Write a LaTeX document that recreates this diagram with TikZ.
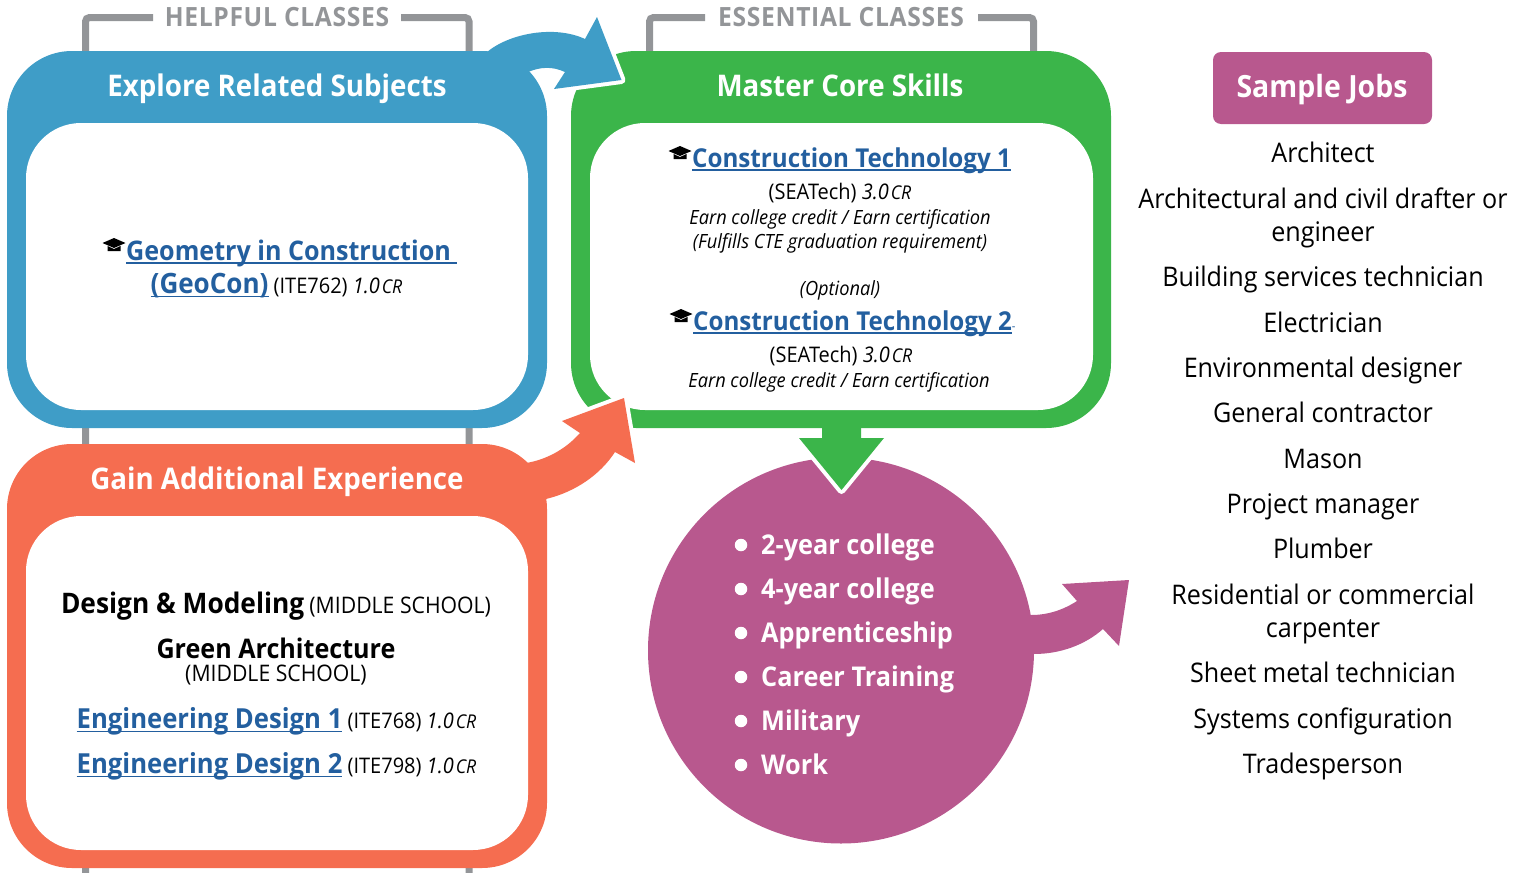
\documentclass[tikz,border=0pt]{standalone}
\usepackage{fontspec}
\setmainfont{Open Sans}[FakeStretch=0.93]
\definecolor{cblue}{HTML}{3F9DC7}
\definecolor{cgreen}{HTML}{3BB54A}
\definecolor{corange}{HTML}{F56D50}
\definecolor{cpurple}{HTML}{B8588E}
\definecolor{cgrey}{HTML}{939598}
\definecolor{clink}{HTML}{235F9F}
\newcommand{\fs}[1]{\fontsize{#1}{#1}\selectfont}
\newcommand{\lnk}[2][27]{{\color{clink}\bfseries\fs{#1}\setbox0\hbox{#2}\rlap{\rule[-3.5pt]{\wd0}{1.3pt}}\box0}}
\newcommand{\cred}[1]{{\itshape #1\kern2pt{\fs{19}CR}}}
\newcommand{\hatic}[2]{%
 \fill[black] (#1-11.5,#2-1) -- (#1,#2-6) -- (#1+11.5,#2-1) -- (#1,#2+4) -- cycle;
 \fill[black] (#1-6.5,#2+2) -- (#1,#2+5) -- (#1+6.5,#2+2) -- (#1+6.5,#2+7) -- (#1-6.5,#2+7) -- cycle;}
\tikzset{
  x=1pt,y=-1pt,
  outl/.style={preaction={draw=white,line width=8pt,line join=round}},
  brk/.style={draw=cgrey,line width=7pt,rounded corners=4pt},
  band/.style={rounded corners=65pt},
  hole/.style={fill=white,rounded corners=55pt},
  capt/.style={anchor=base,text=cgrey,font=\bfseries\fs{26.5}\addfontfeature{LetterSpace=2.5}},
  head/.style={anchor=base,text=white,yshift=-0.7pt,font=\bfseries\fs{29.8}},
  reg/.style={anchor=base,inner sep=0pt,yshift=-0.8pt,font=\fs{21.5}},
  ital/.style={anchor=base,inner sep=0pt,yshift=-0.5pt,font=\itshape\fs{19.6}},
  job/.style={anchor=base,inner sep=0pt,yshift=-1.3pt,font=\fs{27}},
  opt/.style={anchor=base,inner sep=0pt,yshift=-1pt,font=\fs{27}},
  lst/.style={anchor=base west,inner sep=0pt,yshift=-1.3pt,text=white,font=\bfseries\fs{27.2}},
  dot/.style={circle,fill=white,inner sep=0pt,minimum size=12.5pt},
}
\begin{document}
\begin{tikzpicture}
\useasboundingbox (0,0) rectangle (1527,873);
% grey brackets
\draw[brk] (153,17.5) -- (85.5,17.5) -- (85.5,873);
\draw[brk] (401,17.5) -- (469,17.5) -- (469,873);
\draw[brk] (705,17.5) -- (649.5,17.5) -- (649.5,60);
\draw[brk] (978,17.5) -- (1033.5,17.5) -- (1033.5,60);
% purple circle, its arrow, down arrow
\fill[cpurple] (841,650.5) circle (193);
\fill[cpurple] (1031,615) .. controls (1048,615) and (1063,610) .. (1077,601) -- (1062,584) -- (1129,580) -- (1119,646) -- (1103,629) .. controls (1085,645) and (1060,654) .. (1034,654) -- (1000,650) -- (1000,615) -- cycle;
\path[fill=cgreen,outl] (822,420) -- (861,420) -- (861,438) -- (884,438) -- (841.5,490) -- (799,438) -- (822,438) -- cycle;
% green box
\fill[cgreen,band] (571,51) rectangle (1111,428);
\path[hole] (590,123) rectangle (1093,410);
% blue arrow and box
\path[fill=cblue,outl] (487,52) .. controls (510,33) and (555,25) .. (585,39) -- (597,17) -- (621.5,80) -- (554,89) -- (565,72) .. controls (552,66) and (540,67) .. (528,72) -- (520,100) -- (490,80) -- cycle;
\fill[cblue,band] (7,51) rectangle (547,428);
\path[hole] (26,123) rectangle (528,410);
% orange arrow and box
\path[fill=corange,outl] (526,463) .. controls (545,460) and (565,450) .. (580,433) -- (562,421) -- (624,398) -- (635,463) -- (615,452) .. controls (600,475) and (575,492) .. (546,499) -- (500,510) -- cycle;
\fill[corange,band] (7,444) rectangle (547,868);
\path[hole] (26,516) rectangle (528,850);
% sample jobs box
\fill[cpurple,rounded corners=8pt] (1213,52) rectangle (1432,124);
% captions
\node[capt] (helpful) at (277,26) {HELPFUL CLASSES};
\node[capt] (essential) at (841,26) {ESSENTIAL CLASSES};
\node[head] (explore) at (277,96) {Explore Related Subjects};
\node[head] (master) at (840,96) {Master Core Skills};
\node[head] (gain) at (277,489) {Gain Additional Experience};
\node[head,font=\bfseries\fs{30.6}] (sample) at (1322,97) {Sample Jobs};
% blue text
\hatic{114}{244}
\node[opt,anchor=base west] (geo1) at (126,259) {\lnk{Geometry in Construction\ }};
\node[reg] (geo2) at (276.5,293) {\lnk[28]{(GeoCon)} (ITE762) \cred{1.0}};
% green text
\hatic{680}{152}
\node[opt,anchor=base west] (ct1) at (692,166) {\lnk[26]{Construction Technology 1}};
\node[reg] (ct1a) at (840,199) {(SEATech) \cred{3.0}};
\node[ital] (ct1b) at (840,224) {Earn college credit / Earn certification};
\node[ital] (ct1c) at (840,248) {(Fulfills CTE graduation requirement)};
\node[ital] (opt) at (840,295) {(Optional)};
\hatic{681}{315}
\node[opt,anchor=base west] (ct2) at (693,329) {\lnk[26]{Construction Technology 2}{\color{clink}\fs{12}-}};
\node[reg] (ct2a) at (841,362) {(SEATech) \cred{3.0}};
\node[ital] (ct2b) at (839,387) {Earn college credit / Earn certification};
% orange text
\node[reg] (dm) at (276,613) {{\bfseries\fs{28.3}Design \& Modeling} {\fs{22.8}(MIDDLE SCHOOL)}};
\node[reg] (ga) at (276,658) {{\bfseries\fs{27}Green Architecture}};
\node[reg,font=\fs{22.8}] (ms) at (276,681) {(MIDDLE SCHOOL)};
\node[reg] (ed1) at (276.5,728) {\lnk[27.6]{Engineering Design 1} (ITE768) \cred{1.0}};
\node[reg] (ed2) at (276.5,773) {\lnk[27.6]{Engineering Design 2} (ITE798) \cred{1.0}};
% circle list
\node[dot] (d1) at (741,545) {}; \node[lst] (l1) at (761,553) {2-year college};
\node[dot] (d2) at (741,589) {}; \node[lst] (l2) at (761,597) {4-year college};
\node[dot] (d3) at (741,633) {}; \node[lst] (l3) at (761,641) {Apprenticeship};
\node[dot] (d4) at (741,677) {}; \node[lst] (l4) at (761,685) {Career Training};
\node[dot] (d5) at (741,721) {}; \node[lst] (l5) at (761,729) {Military};
\node[dot] (d6) at (741,765) {}; \node[lst] (l6) at (761,773) {Work};
% jobs
\node[job] (j1) at (1323,161) {Architect};
\node[job] (j2) at (1323,207) {Architectural and civil drafter or};
\node[job] (j3) at (1323,240) {engineer};
\node[job] (j4) at (1323,285) {Building services technician};
\node[job] (j5) at (1323,331) {Electrician};
\node[job] (j6) at (1323,376) {Environmental designer};
\node[job] (j7) at (1323,421) {General contractor};
\node[job] (j8) at (1323,467) {Mason};
\node[job] (j9) at (1323,512) {Project manager};
\node[job] (j10) at (1323,557) {Plumber};
\node[job] (j11) at (1323,603) {Residential or commercial};
\node[job] (j12) at (1323,636) {carpenter};
\node[job] (j13) at (1323,681) {Sheet metal technician};
\node[job] (j14) at (1323,727) {Systems configuration};
\node[job] (j15) at (1323,772) {Tradesperson};
\end{tikzpicture}
\end{document}
